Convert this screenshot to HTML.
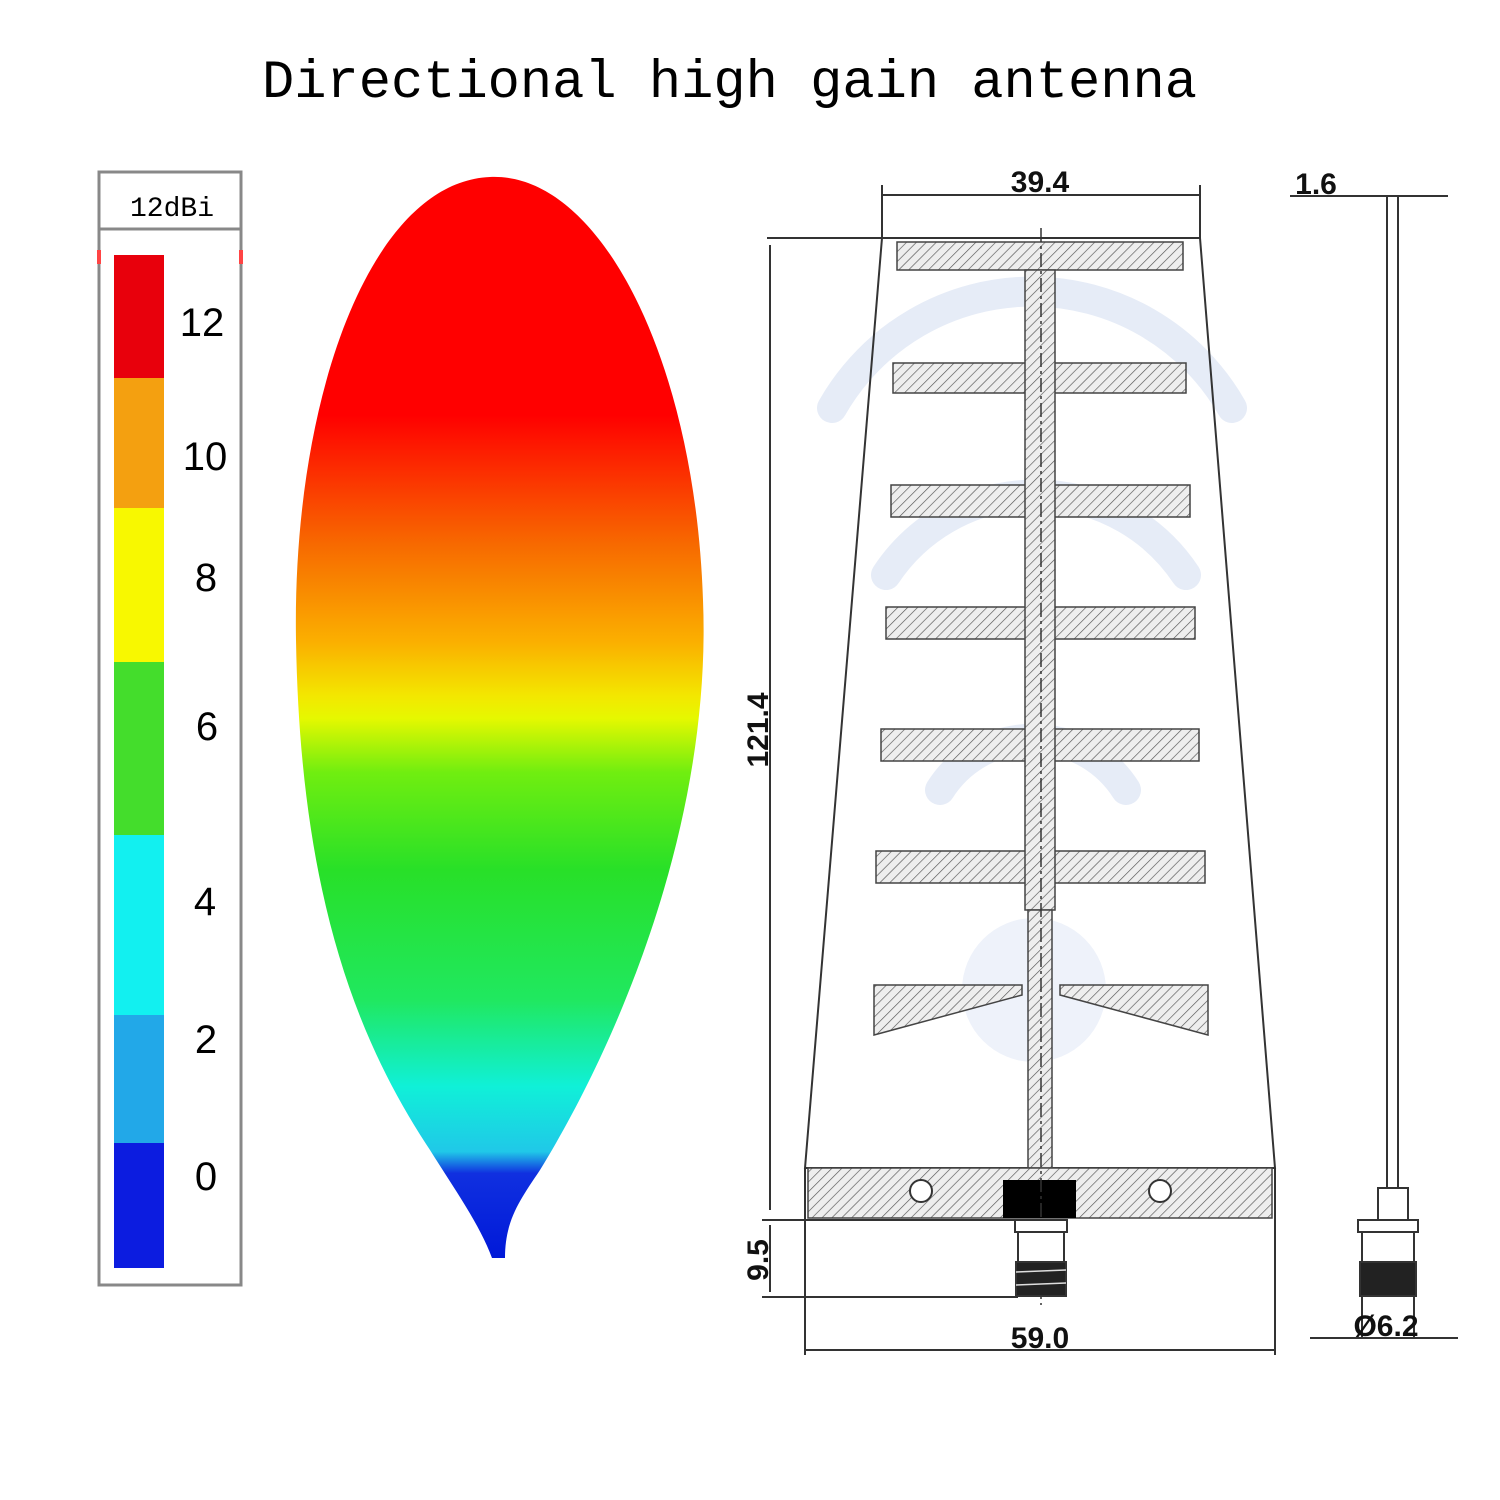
<!DOCTYPE html>
<html><head><style>
html,body{margin:0;padding:0;background:#fff;width:1500px;height:1500px;overflow:hidden}
</style></head><body>
<svg width="1500" height="1500" viewBox="0 0 1500 1500" xmlns="http://www.w3.org/2000/svg">
<defs>
<pattern id="h" width="7" height="7" patternUnits="userSpaceOnUse" patternTransform="rotate(45)">
<rect width="7" height="7" fill="#eee"/><line x1="0" y1="0" x2="0" y2="7" stroke="#555" stroke-width="1.3"/></pattern>
<linearGradient id="g" x1="0" y1="177" x2="0" y2="1260" gradientUnits="userSpaceOnUse">
<stop offset="0" stop-color="#f00"/><stop offset="0.22" stop-color="#f00"/>
<stop offset="0.34" stop-color="#f76a00"/><stop offset="0.43" stop-color="#fbb000"/>
<stop offset="0.48" stop-color="#f3e800"/><stop offset="0.5" stop-color="#e5f800"/>
<stop offset="0.55" stop-color="#70ee10"/><stop offset="0.64" stop-color="#28e028"/>
<stop offset="0.76" stop-color="#20e860"/><stop offset="0.84" stop-color="#10f0d8"/>
<stop offset="0.9" stop-color="#20c8e8"/><stop offset="0.92" stop-color="#1030e0"/>
<stop offset="1" stop-color="#0018d8"/></linearGradient>
</defs>
<text x="262" y="97" font-family="Liberation Mono, monospace" font-size="54" textLength="935" lengthAdjust="spacingAndGlyphs">Directional high gain antenna</text>
<!-- watermark -->
<g fill="none" stroke="#e6ecf7" stroke-width="30" stroke-linecap="round">
<path d="M832 408 A 230 230 0 0 1 1232 408"/>
<path d="M886 575 A 180 180 0 0 1 1186 575"/>
<path d="M940 790 A 110 110 0 0 1 1126 790"/>
</g>
<circle cx="1034" cy="990" r="72" fill="#eef2fa"/>
<!-- legend -->
<rect x="99" y="172" width="142" height="1113" fill="none" stroke="#888" stroke-width="3"/>
<line x1="99" y1="229" x2="241" y2="229" stroke="#888" stroke-width="3"/>
<rect x="97" y="250" width="4" height="14" fill="#f44"/><rect x="239" y="250" width="4" height="14" fill="#f44"/>
<text x="130" y="216" font-family="Liberation Mono, monospace" font-size="28">12dBi</text>
<rect x="114" y="255" width="50" height="123" fill="#e8000c"/>
<rect x="114" y="378" width="50" height="130" fill="#f4a010"/>
<rect x="114" y="508" width="50" height="154" fill="#f8f800"/>
<rect x="114" y="662" width="50" height="173" fill="#44dd2c"/>
<rect x="114" y="835" width="50" height="180" fill="#12f0f0"/>
<rect x="114" y="1015" width="50" height="128" fill="#22a8e8"/>
<rect x="114" y="1143" width="50" height="125" fill="#0c1ce0"/>
<g font-family="Liberation Sans, sans-serif" font-size="40" text-anchor="middle">
<text x="202" y="336">12</text><text x="205" y="470">10</text><text x="206" y="591">8</text>
<text x="207" y="740">6</text><text x="205" y="915">4</text><text x="206" y="1053">2</text><text x="206" y="1190">0</text></g>
<!-- balloon -->
<path d="M490 177 C 600 172 695 360 703 600 C 712 820 620 1040 540 1170 C 520 1200 505 1220 505 1258 L 492 1258 C 480 1225 455 1190 430 1150 C 350 1030 300 880 296 640 C 292 400 370 182 490 177 Z" fill="url(#g)"/>
<!-- front drawing -->
<g stroke="#333" stroke-width="2" fill="none">
<polygon points="882,238 1200,238 1275,1168 805,1168"/>
<line x1="767" y1="238" x2="1040" y2="238"/>
<line x1="770" y1="245" x2="770" y2="1210"/>
<line x1="762" y1="1220" x2="1018" y2="1220"/>
<line x1="762" y1="1297" x2="1018" y2="1297"/>
<line x1="770" y1="1225" x2="770" y2="1292"/>
<line x1="882" y1="185" x2="882" y2="238"/><line x1="1200" y1="185" x2="1200" y2="238"/>
<line x1="882" y1="195" x2="1200" y2="195"/>
<line x1="805" y1="1168" x2="805" y2="1355"/><line x1="1275" y1="1168" x2="1275" y2="1355"/>
<line x1="805" y1="1350" x2="1275" y2="1350"/>
</g>
<g fill="url(#h)" stroke="#444" stroke-width="1.5">
<rect x="897" y="242" width="286" height="28"/>
<rect x="893" y="363" width="293" height="30"/>
<rect x="891" y="485" width="299" height="32"/>
<rect x="886" y="607" width="309" height="32"/>
<rect x="881" y="729" width="318" height="32"/>
<rect x="876" y="851" width="329" height="32"/>
<polygon points="874,985 1022,985 1022,995 874,1035"/>
<polygon points="1208,985 1060,985 1060,995 1208,1035"/>
<rect x="1025" y="270" width="30" height="640"/>
<rect x="1028" y="910" width="24" height="258"/>
<rect x="808" y="1168" width="464" height="50"/>
</g>
<rect x="1003" y="1180" width="73" height="38" fill="#000"/>
<circle cx="921" cy="1191" r="11" fill="#fff" stroke="#333" stroke-width="2"/>
<circle cx="1160" cy="1191" r="11" fill="#fff" stroke="#333" stroke-width="2"/>
<line x1="1041" y1="228" x2="1041" y2="1305" stroke="#333" stroke-width="1.5" stroke-dasharray="14,4,3,4"/>
<g stroke="#333" stroke-width="2" fill="#fff">
<rect x="1015" y="1220" width="52" height="12"/><rect x="1018" y="1232" width="46" height="30"/>
<rect x="1016" y="1262" width="50" height="34" fill="#222"/>
</g>
<g stroke="#ddd" stroke-width="1.5"><line x1="1016" y1="1272" x2="1066" y2="1270"/><line x1="1016" y1="1285" x2="1066" y2="1283"/></g>
<!-- side view -->
<g stroke="#333" stroke-width="2" fill="none">
<rect x="1387" y="196" width="11" height="992"/>
<line x1="1290" y1="196" x2="1448" y2="196"/>
<rect x="1378" y="1188" width="30" height="32"/>
<rect x="1358" y="1220" width="60" height="12"/><rect x="1362" y="1232" width="52" height="30"/>
<rect x="1360" y="1262" width="56" height="34" fill="#222"/>
<line x1="1310" y1="1338" x2="1458" y2="1338"/>
<line x1="1362" y1="1296" x2="1362" y2="1338"/><line x1="1414" y1="1296" x2="1414" y2="1338"/>
</g>
<g font-family="Liberation Sans, sans-serif" font-size="30" font-weight="bold" fill="#111">
<text x="1040" y="192" text-anchor="middle">39.4</text>
<text x="1316" y="194" text-anchor="middle">1.6</text>
<text x="1040" y="1348" text-anchor="middle">59.0</text>
<text x="1386" y="1336" text-anchor="middle">Ø6.2</text>
<text transform="translate(768,730) rotate(-90)" text-anchor="middle">121.4</text>
<text transform="translate(768,1260) rotate(-90)" text-anchor="middle">9.5</text>
</g>
</svg>
</body></html>
